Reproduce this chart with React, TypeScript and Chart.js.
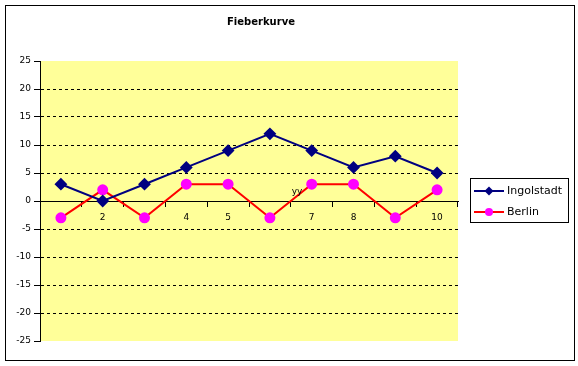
import React, { useEffect, useRef } from "react";
import { Chart, registerables } from "chart.js";

Chart.register(...registerables);

const categories = ["1", "2", "3", "4", "5", "6", "7", "8", "9", "10"];
const ingolstadt = [3, 0, 3, 6, 9, 12, 9, 6, 8, 5];
const berlin = [-3, 2, -3, 3, 3, -3, 3, 3, -3, 2];
const titleText = "Fieberkurve";
const axisTitle = "yy";

const FONT = "Tahoma, 'DejaVu Sans', sans-serif";

const decorPlugin = {
  id: "decor",
  beforeDraw(chart: any) {
    const { ctx, chartArea } = chart;
    ctx.save();
    ctx.fillStyle = "#ffffff";
    ctx.fillRect(0, 0, chart.width, chart.height);
    ctx.strokeStyle = "#000000";
    ctx.lineWidth = 1;
    ctx.strokeRect(5.5, 5.5, 569, 355);
    ctx.fillStyle = "#FFFF99";
    ctx.fillRect(chartArea.left, chartArea.top, chartArea.right - chartArea.left, chartArea.bottom - chartArea.top);
    ctx.restore();
  },
  afterDraw(chart: any) {
    const { ctx } = chart;
    ctx.save();
    // title
    ctx.fillStyle = "#000000";
    ctx.font = "bold 10px " + FONT;
    ctx.textAlign = "center";
    ctx.textBaseline = "middle";
    ctx.fillText(titleText, 261, 22);
    // stray axis title
    ctx.font = "9px " + FONT;
    ctx.fillText(axisTitle, 297, 192);
    // legend
    ctx.strokeStyle = "#000000";
    ctx.lineWidth = 1;
    ctx.strokeRect(470.5, 178.5, 98, 44);
    const rows = [191, 212];
    chart.data.datasets.forEach((ds: any, i: number) => {
      const y = rows[i];
      ctx.strokeStyle = ds.borderColor;
      ctx.lineWidth = 2;
      ctx.beginPath();
      ctx.moveTo(474, y);
      ctx.lineTo(504, y);
      ctx.stroke();
      ctx.fillStyle = ds.pointBackgroundColor;
      ctx.beginPath();
      if (ds.pointStyle === "rectRot") {
        ctx.moveTo(489, y - 4.5);
        ctx.lineTo(493.5, y);
        ctx.lineTo(489, y + 4.5);
        ctx.lineTo(484.5, y);
        ctx.closePath();
      } else {
        ctx.arc(489, y, 4, 0, Math.PI * 2);
      }
      ctx.fill();
      ctx.fillStyle = "#000000";
      ctx.font = "11px " + FONT;
      ctx.textAlign = "left";
      ctx.textBaseline = "middle";
      ctx.fillText(ds.label, 507, y);
    });
    ctx.restore();
  },
};

export default function App() {
  const ref = useRef<HTMLCanvasElement>(null);
  useEffect(() => {
    document.body.style.margin = "0";
    const chart = new Chart(ref.current!, {
      type: "line",
      data: {
        labels: categories,
        datasets: [
          {
            label: "Ingolstadt",
            data: ingolstadt,
            borderColor: "#000080",
            backgroundColor: "#000080",
            pointBackgroundColor: "#000080",
            pointBorderColor: "#000080",
            pointStyle: "rectRot",
            pointRadius: 5,
            borderWidth: 2,
            tension: 0,
          },
          {
            label: "Berlin",
            data: berlin,
            borderColor: "#FF0000",
            backgroundColor: "#FF00FF",
            pointBackgroundColor: "#FF00FF",
            pointBorderColor: "#FF00FF",
            pointStyle: "circle",
            pointRadius: 4.5,
            borderWidth: 2,
            tension: 0,
          },
        ],
      },
      plugins: [decorPlugin],
      options: {
        responsive: false,
        animation: false,
        layout: { padding: { left: 0, top: 61, right: 120, bottom: 25 } },
        plugins: {
          legend: { display: false },
          title: { display: false },
          tooltip: { enabled: false },
        },
        scales: {
          x: {
            type: "category",
            offset: true,
            position: { y: 0 } as any,
            grid: {
              drawOnChartArea: false,
              drawTicks: true,
              tickLength: 5,
              tickColor: "#000000",
              offset: true,
            },
            border: { display: true, color: "#000000", width: 1 },
            ticks: {
              color: "#000000",
              font: { family: FONT, size: 9 },
              padding: 6,
              maxRotation: 0,
            },
          },
          y: {
            min: -25,
            max: 25,
            afterFit(scale: any) {
              scale.width = 40;
            },
            grid: {
              color: (c: any) => (c.tick && (c.tick.value === 25 || c.tick.value === -25) ? "rgba(0,0,0,0)" : "#000000"),
              tickColor: "#000000",
              tickLength: 6,
              tickBorderDash: [],
            },
            border: { display: true, color: "#000000", width: 1, dash: [3, 3] },
            ticks: {
              stepSize: 5,
              color: "#000000",
              font: { family: FONT, size: 9 },
              padding: 3,
            },
          },
        },
      },
    });
    return () => chart.destroy();
  }, []);
  return <canvas ref={ref} width={578} height={366} style={{ display: "block" }} />;
}
